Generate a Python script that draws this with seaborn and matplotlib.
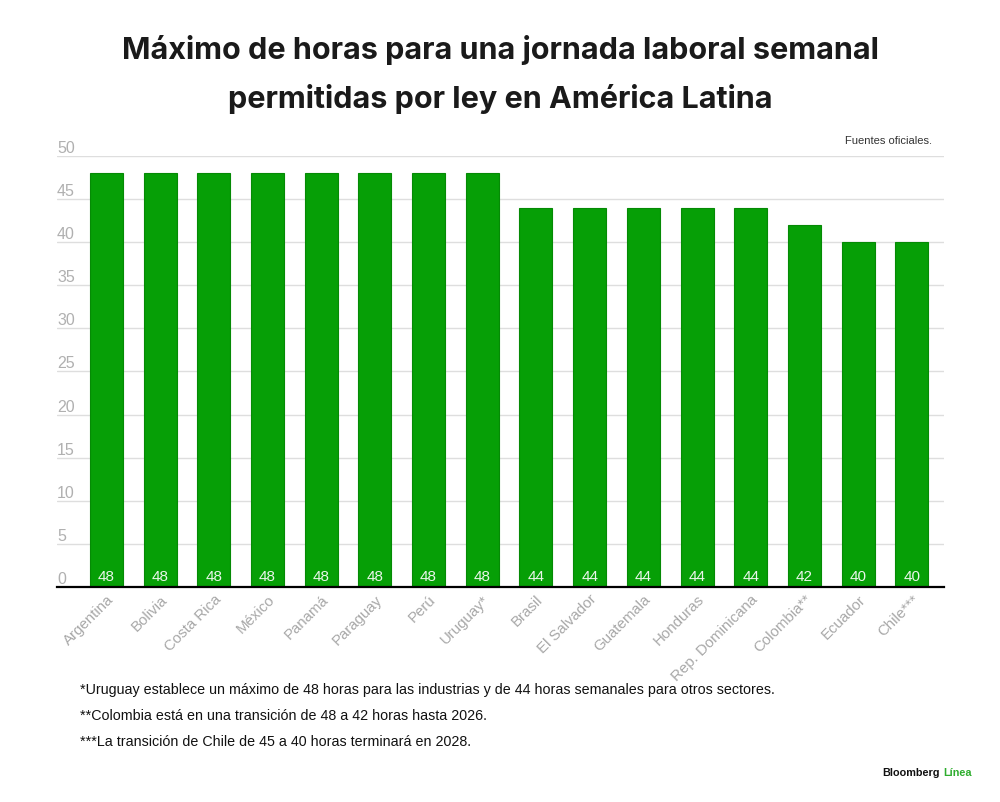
import matplotlib
matplotlib.use("Agg")
import pandas as pd
import seaborn as sns
import matplotlib.pyplot as plt
import matplotlib.transforms as mtransforms

paises = ["Argentina", "Bolivia", "Costa Rica", "México", "Panamá", "Paraguay", "Perú",
          "Uruguay*", "Brasil", "El Salvador", "Guatemala", "Honduras", "Rep. Dominicana",
          "Colombia**", "Ecuador", "Chile***"]
horas = [48, 48, 48, 48, 48, 48, 48, 48, 44, 44, 44, 44, 44, 42, 40, 40]
y_ticks = [0, 5, 10, 15, 20, 25, 30, 35, 40, 45, 50]
notas = ["*Uruguay establece un máximo de 48 horas para las industrias y de 44 horas semanales para otros sectores.",
         "**Colombia está en una transición de 48 a 42 horas hasta 2026.",
         "***La transición de Chile de 45 a 40 horas terminará en 2028."]

df = pd.DataFrame({"pais": paises, "horas": horas})

sns.set_style("white")
plt.rcParams["font.family"] = ["Liberation Sans", "DejaVu Sans"]

fig = plt.figure(figsize=(10, 8.02), dpi=100)
ax = fig.add_axes([0.057, 0.2681, 0.887, 0.5374])

verde = "#069f06"
sns.barplot(data=df, x="pais", y="horas", color=verde, width=0.615,
            edgecolor="#058a05", linewidth=0.8, saturation=1, ax=ax, zorder=3)

ax.set_xlim(-0.92, 15.6)
ax.set_ylim(0, 50)
ax.set_yticks(y_ticks)
ax.yaxis.grid(True, color="#dedede", linewidth=1, zorder=0)
ax.set_yticklabels([])
ax.tick_params(axis="y", length=0)
for s in ["top", "right", "left"]:
    ax.spines[s].set_visible(False)
ax.spines["bottom"].set_color("black")
ax.spines["bottom"].set_linewidth(1.6)
ax.spines["bottom"].set_zorder(5)

# etiquetas del eje y encima de cada línea de la cuadrícula
trans = mtransforms.blended_transform_factory(ax.transAxes, ax.transData)
for t in y_ticks:
    ax.text(0.0, t, str(t), transform=trans, ha="left", va="bottom",
            fontsize=11.5, color="#b0b0b0", clip_on=False)

ax.set_xlabel("")
ax.set_ylabel("")
ax.tick_params(axis="x", length=0, pad=4)
ax.set_xticks(range(len(paises)))
ax.set_xticklabels(paises, rotation=45, ha="right", rotation_mode="anchor",
                   fontsize=10.8, color="#a8a8a8")

for i, v in enumerate(horas):
    ax.text(i, 0.3, str(v), ha="center", va="bottom", fontsize=11,
            color="#eaf6ea", zorder=6)

fig.text(0.5, 0.938, "Máximo de horas para una jornada laboral semanal",
         ha="center", va="center", fontsize=22, fontweight="bold",
         family=["Inter", "DejaVu Sans"], color="#1a1a1a")
fig.text(0.5, 0.876, "permitidas por ley en América Latina",
         ha="center", va="center", fontsize=22, fontweight="bold",
         family=["Inter", "DejaVu Sans"], color="#1a1a1a")
fig.text(0.932, 0.824, "Fuentes oficiales.", ha="right", va="center",
         fontsize=8, color="#333333")

for k, nota in enumerate(notas):
    fig.text(0.08, 1 - (690 + 26 * k) / 802, nota, ha="left", va="center",
             fontsize=10.25, color="#111111")

fig.text(0.882, 1 - 773 / 802, "Bloomberg", ha="left", va="center",
         fontsize=7.8, fontweight="bold", color="#111111")
fig.text(0.943, 1 - 773 / 802, "Línea", ha="left", va="center",
         fontsize=7.8, fontweight="bold", color="#2ead2e")

fig.savefig("out.png", dpi=100, facecolor="white")
